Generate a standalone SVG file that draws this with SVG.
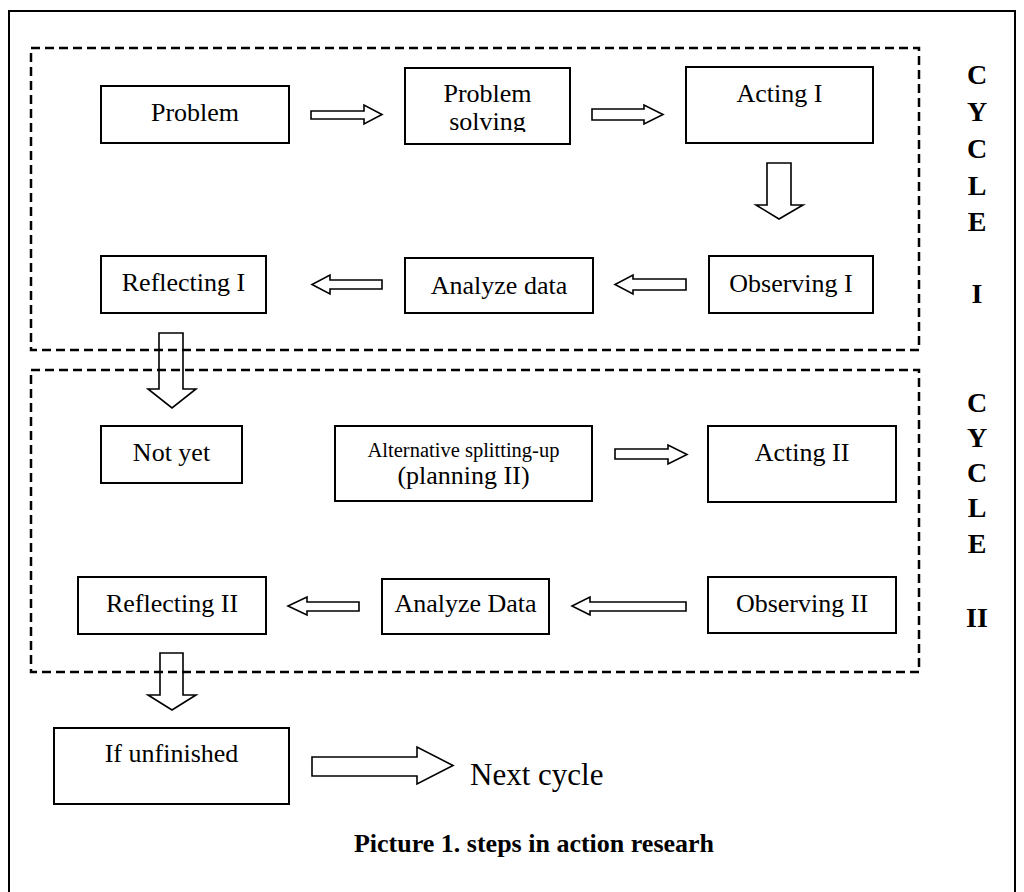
<svg xmlns="http://www.w3.org/2000/svg" width="1024" height="892" viewBox="0 0 1024 892">
<defs>
<style>
.bx{fill:#fff;stroke:#000;stroke-width:2}
.ds{fill:none;stroke:#000;stroke-width:2.5;stroke-dasharray:9 5}
.ar{fill:none;stroke:#000;stroke-width:1.6;stroke-linejoin:miter}
.t{font-family:"Liberation Serif","Times New Roman",serif;font-size:26px;fill:#000;text-anchor:middle}
.s{font-size:20.5px}
.cy{font-family:"Liberation Serif","Times New Roman",serif;font-size:28px;font-weight:bold;fill:#000;text-anchor:middle}
</style>
<clipPath id="clipPS"><rect x="405" y="68" width="165" height="64"/></clipPath>
</defs>
<rect x="9" y="11" width="1006" height="884" fill="#fff" stroke="#000" stroke-width="2"/>
<g id="cycle1-frame"><rect class="ds" x="31" y="48" width="888" height="302"/></g>
<g id="cycle2-frame"><rect class="ds" x="31" y="370" width="888" height="302"/></g>
<g id="connectors">
<polygon class="ar" points="311,111 364,111 364,105 382,114.5 364,124 364,119 311,119"/>
<polygon class="ar" points="592,109 644,109 644,105 663,114.5 644,124 644,120 592,120"/>
<polygon class="ar" points="767,163 791,163 791,205 803,205 779,219 756,205 767,205"/>
<polygon class="ar" points="686,279 633,279 633,275 615,284.5 633,294 633,290 686,290"/>
<polygon class="ar" points="382,280 330,280 330,275 312,284.5 330,294 330,289 382,289"/>
<polygon class="ar" points="159,333 183,333 183,389 196,389 172,408 148,389 159,389"/>
<polygon class="ar" points="615,449 668,449 668,445 687,454.5 668,464 668,459 615,459"/>
<polygon class="ar" points="686,602 590,602 590,597 572,606 590,615 590,611 686,611"/>
<polygon class="ar" points="359,602 307,602 307,597 288,606 307,615 307,611 359,611"/>
<polygon class="ar" points="160,653 183,653 183,695 196,695 172,710 148,695 160,695"/>
<polygon class="ar" points="312,757 417,757 417,747 453,765.5 417,784 417,776 312,776"/>
</g>
<g id="problem"><rect class="bx" x="101" y="86" width="188" height="57"/><text class="t" x="195" y="121">Problem</text></g>
<g id="problem-solving"><rect class="bx" x="405" y="68" width="165" height="76"/><g clip-path="url(#clipPS)"><text class="t" x="487.5" y="102">Problem</text><text class="t" x="487.5" y="130">solving</text></g></g>
<g id="acting1"><rect class="bx" x="686" y="67" width="187" height="76"/><text class="t" x="779.5" y="102">Acting I</text></g>
<g id="observing1"><rect class="bx" x="709" y="256" width="164" height="57"/><text class="t" x="791" y="292">Observing I</text></g>
<g id="analyze1"><rect class="bx" x="405" y="258" width="188" height="55"/><text class="t" x="499" y="294">Analyze data</text></g>
<g id="reflecting1"><rect class="bx" x="101" y="256" width="165" height="57"/><text class="t" x="183.5" y="291">Reflecting I</text></g>
<g id="notyet"><rect class="bx" x="101" y="426" width="141" height="57"/><text class="t" x="171.5" y="461">Not yet</text></g>
<g id="planning2"><rect class="bx" x="335" y="426" width="257" height="75"/><text class="t s" x="463.5" y="457">Alternative splitting-up</text><text class="t" x="463.5" y="484">(planning II)</text></g>
<g id="acting2"><rect class="bx" x="708" y="426" width="188" height="76"/><text class="t" x="802" y="461">Acting II</text></g>
<g id="observing2"><rect class="bx" x="708" y="577" width="188" height="56"/><text class="t" x="802" y="612">Observing II</text></g>
<g id="analyze2"><rect class="bx" x="382" y="579" width="167" height="55"/><text class="t" x="465.5" y="612">Analyze Data</text></g>
<g id="reflecting2"><rect class="bx" x="78" y="577" width="188" height="57"/><text class="t" x="172" y="612">Reflecting II</text></g>
<g id="unfinished"><rect class="bx" x="54" y="728" width="235" height="76"/><text class="t" x="171.5" y="762">If unfinished</text></g>
<g id="nextcycle"><text x="470" y="785" font-family="Liberation Serif,serif" font-size="31" fill="#000">Next cycle</text></g>
<g id="label-cycle1">
<text class="cy" x="977" y="84">C</text><text class="cy" x="977" y="121">Y</text><text class="cy" x="977" y="158">C</text><text class="cy" x="977" y="195">L</text><text class="cy" x="977" y="231">E</text><text class="cy" x="977" y="303">I</text>
</g>
<g id="label-cycle2">
<text class="cy" x="977" y="412">C</text><text class="cy" x="977" y="447">Y</text><text class="cy" x="977" y="482">C</text><text class="cy" x="977" y="517">L</text><text class="cy" x="977" y="553">E</text><text class="cy" x="977" y="627">II</text>
</g>
<g id="caption"><text x="534" y="852" font-family="Liberation Serif,serif" font-size="26" font-weight="bold" fill="#000" text-anchor="middle">Picture 1. steps in action researh</text></g>
</svg>
